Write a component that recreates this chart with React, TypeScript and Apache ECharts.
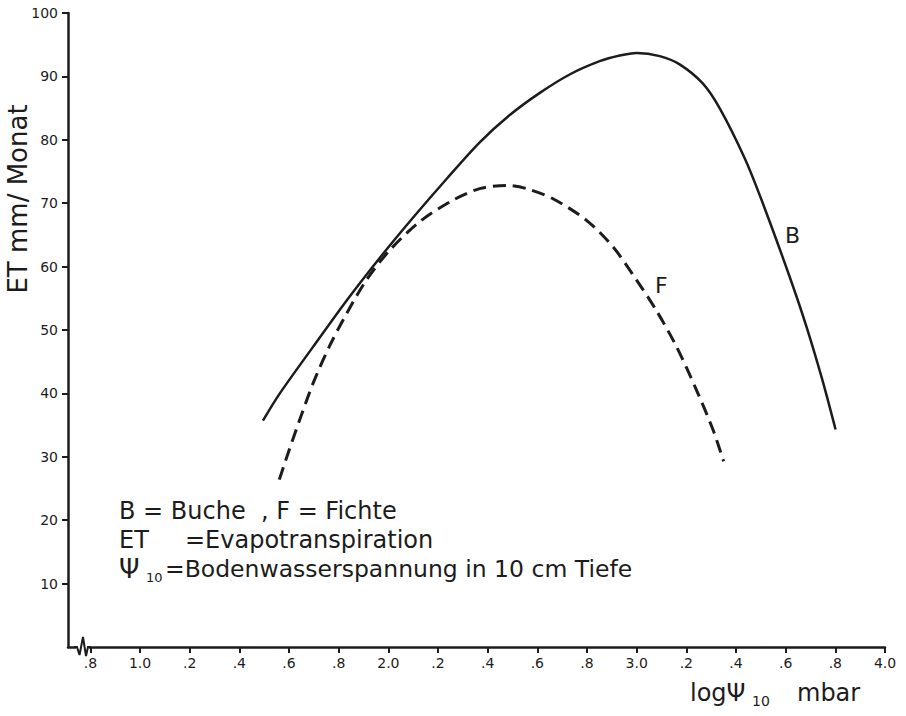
import React, { useEffect, useRef } from "react";
import * as echarts from "echarts";

// Tick values and their printed labels on the (broken) log-psi axis
const xTickValues = [0.8, 1.0, 1.2, 1.4, 1.6, 1.8, 2.0, 2.2, 2.4, 2.6, 2.8, 3.0, 3.2, 3.4, 3.6, 3.8, 4.0];
const xTickLabels = [".8", "1.0", ".2", ".4", ".6", ".8", "2.0", ".2", ".4", ".6", ".8", "3.0", ".2", ".4", ".6", ".8", "4.0"];
const yTickValues = [10, 20, 30, 40, 50, 60, 70, 80, 90, 100];

// B = Buche (solid)
const psiB = [1.495, 1.563, 1.696, 1.833, 1.966, 2.099, 2.236, 2.368, 2.489, 2.610, 2.730, 2.851, 2.932, 3.000, 3.093, 3.173, 3.266, 3.334, 3.435, 3.503, 3.616, 3.684, 3.748, 3.801];
const etB = [35.7, 40.0, 47.3, 54.7, 61.4, 67.7, 73.9, 79.6, 83.9, 87.4, 90.3, 92.4, 93.3, 93.7, 93.2, 91.9, 88.9, 85.0, 77.1, 70.5, 58.4, 50.5, 42.1, 34.3];

// F = Fichte (dashed)
const psiF = [1.561, 1.600, 1.650, 1.700, 1.765, 1.832, 1.912, 2.006, 2.127, 2.261, 2.368, 2.476, 2.556, 2.663, 2.798, 2.905, 2.999, 3.079, 3.160, 3.240, 3.307, 3.350];
const etF = [26.4, 31.0, 36.6, 41.9, 47.6, 52.6, 57.9, 62.6, 67.1, 70.5, 72.3, 72.8, 72.3, 70.7, 67.3, 63.1, 57.9, 53.1, 47.4, 40.6, 34.3, 29.3];

const ink = "#1c1c1c";
const font = "DejaVu Sans";

function xLabel(v: number): string {
  const i = xTickValues.findIndex((t) => Math.abs(t - v) < 1e-6);
  return i >= 0 ? xTickLabels[i] : "";
}

export default function App() {
  const ref = useRef<HTMLDivElement>(null);
  useEffect(() => {
    document.body.style.margin = "0";
    const chart = echarts.init(ref.current!, null, { renderer: "svg" });
    const txt = (text: string, x: number, y: number, size: number, extra: any = {}) => ({
      type: "text",
      x,
      y,
      z: 100,
      ...extra,
      style: {
        text,
        font: `${size}px '${font}'`,
        fill: ink,
        verticalAlign: "middle",
        ...(extra.style || {}),
      },
    });
    chart.setOption({
      animation: false,
      backgroundColor: "#ffffff",
      grid: { left: 68, right: 21, top: 13, bottom: 69 },
      xAxis: {
        type: "value",
        min: 0.71,
        max: 4.0,
        splitLine: { show: false },
        axisLine: { show: true, onZero: false, lineStyle: { color: ink, width: 2.5 } },
        axisTick: { show: true, customValues: xTickValues, length: 6, lineStyle: { color: ink, width: 2 } },
        axisLabel: {
          customValues: xTickValues,
          formatter: (v: number) => xLabel(v),
          fontSize: 14,
          fontFamily: font,
          color: ink,
          margin: 9,
        },
      },
      yAxis: {
        type: "value",
        min: 0,
        max: 100,
        interval: 10,
        splitLine: { show: false },
        axisLine: { show: true, onZero: false, lineStyle: { color: ink, width: 2.5 } },
        axisTick: { show: true, customValues: yTickValues, length: 6, lineStyle: { color: ink, width: 2 } },
        axisLabel: {
          customValues: yTickValues,
          fontSize: 14,
          fontFamily: font,
          color: ink,
          margin: 10,
        },
      },
      series: [
        {
          type: "line",
          name: "B",
          data: psiB.map((x, i) => [x, etB[i]]),
          smooth: 0.3,
          showSymbol: false,
          lineStyle: { color: ink, width: 2.5 },
        },
        {
          type: "line",
          name: "F",
          data: psiF.map((x, i) => [x, etF[i]]),
          smooth: 0.3,
          showSymbol: false,
          lineStyle: { color: ink, width: 3, type: [13, 7] },
        },
      ],
      graphic: [
        // axis break symbol
        { type: "rect", z: 99, shape: { x: 76, y: 643, width: 13, height: 7 }, style: { fill: "#ffffff" } },
        {
          type: "polyline",
          z: 100,
          shape: { points: [[74, 647], [77, 647], [79.5, 655], [83, 637], [86, 656], [88, 647], [91, 647]] },
          style: { stroke: ink, lineWidth: 2, fill: null },
        },
        txt("ET mm/ Monat", 18, 199, 26, { rotation: Math.PI / 2, style: { align: "center" } }),
        txt("logΨ", 690, 693, 24),
        txt("10", 752, 701, 14),
        txt("mbar", 797, 693, 24),
        txt("B", 785, 235, 22),
        txt("F", 655, 285, 22),
        txt("B = Buche  , F = Fichte", 119, 511, 24),
        txt("ET", 119, 540, 24),
        txt("=Evapotranspiration", 185, 540, 24),
        txt("Ψ", 119, 569, 26),
        txt("10", 146, 577, 13),
        txt("=Bodenwasserspannung in 10 cm Tiefe", 165, 569, 23.5),
      ],
    });
    return () => chart.dispose();
  }, []);
  return <div ref={ref} style={{ width: 906, height: 716 }} />;
}
